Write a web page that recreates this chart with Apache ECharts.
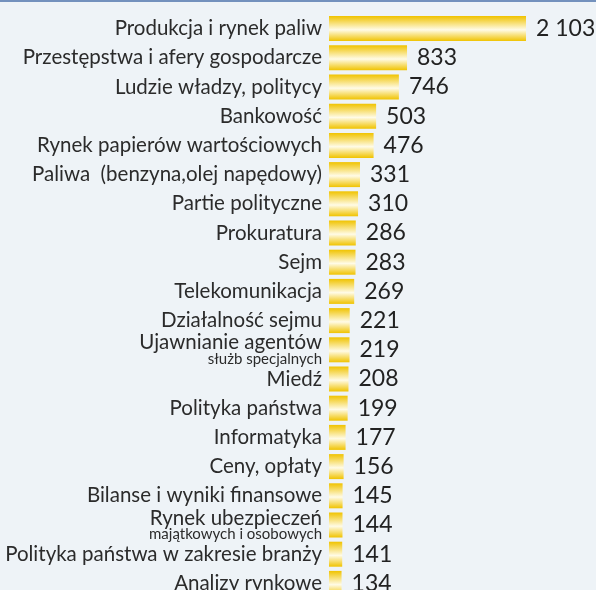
<!DOCTYPE html>
<html>
<head>
<meta charset="utf-8">
<script src="https://cdn.jsdelivr.net/npm/echarts@6/dist/echarts.min.js"></script>
<style>
  html, body { margin: 0; padding: 0; background: #eef3f7; }
  #chart { width: 596px; height: 590px; }
</style>
</head>
<body>
<div id="chart"></div>
<script>
// kategorie (od góry) i liczby publikacji
const categories = [
  'Produkcja i rynek paliw',
  'Przestępstwa i afery gospodarcze',
  'Ludzie władzy, politycy',
  'Bankowość',
  'Rynek papierów wartościowych',
  'Paliwa  (benzyna,olej napędowy)',
  'Partie polityczne',
  'Prokuratura',
  'Sejm',
  'Telekomunikacja',
  'Działalność sejmu',
  'Ujawnianie agentów|służb specjalnych',
  'Miedź',
  'Polityka państwa',
  'Informatyka',
  'Ceny, opłaty',
  'Bilanse i wyniki finansowe',
  'Rynek ubezpieczeń|majątkowych i osobowych',
  'Polityka państwa w zakresie branży',
  'Analizy rynkowe'
];
const values = [2103, 833, 746, 503, 476, 331, 310, 286, 283, 269, 221, 219, 208, 199, 177, 156, 145, 144, 141, 134];

const chart = echarts.init(document.getElementById('chart'));
const font = 'Lato, "Liberation Sans", sans-serif';

const gold = new echarts.graphic.LinearGradient(0, 0, 0, 1, [
  { offset: 0, color: '#f0c300' },
  { offset: 0.55, color: '#fffbe6' },
  { offset: 1, color: '#f0c300' }
]);

chart.setOption({
  backgroundColor: '#eef3f7',
  animation: false,
  graphic: [{
    type: 'rect',
    shape: { x: 0, y: 0, width: 596, height: 2 },
    style: { fill: '#7391bd' }
  }],
  grid: { left: 329, top: 14, width: 197, height: 584, outerBoundsMode: 'none' },
  xAxis: {
    type: 'value', min: 0, max: 2103,
    show: false
  },
  yAxis: {
    type: 'category',
    inverse: true,
    data: categories,
    axisLine: { show: false },
    axisTick: { show: false },
    axisLabel: {
      margin: 7,
      color: '#2b2b2b',
      fontFamily: font,
      fontSize: 20.5,
      align: 'right',
      formatter: function (v) {
        const parts = v.split('|');
        if (parts.length > 1) return '{a|' + parts[0] + '}\n{b|' + parts[1] + '}';
        return v;
      },
      rich: {
        a: { fontFamily: font, fontSize: 20.5, color: '#2b2b2b', lineHeight: 19, align: 'right' },
        b: { fontFamily: font, fontSize: 15, color: '#2b2b2b', lineHeight: 14, align: 'right' }
      }
    }
  },
  series: [{
    type: 'bar',
    data: values,
    barWidth: 25,
    itemStyle: { color: gold },
    label: {
      show: true,
      position: 'right',
      distance: 10,
      color: '#222',
      fontFamily: font,
      fontSize: 23,
      formatter: function (p) {
        return String(p.value).replace(/\B(?=(\d{3})+(?!\d))/g, ' ');
      }
    }
  }]
});
</script>
</body>
</html>
